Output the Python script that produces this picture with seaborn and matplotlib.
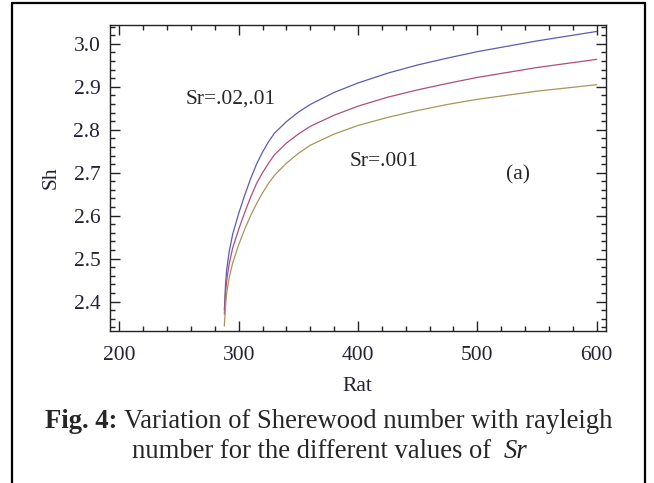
import numpy as np
import pandas as pd
import seaborn as sns
import matplotlib.pyplot as plt
from matplotlib.lines import Line2D
from matplotlib.ticker import MultipleLocator

# values
rat = [288, 289, 290, 292, 295, 300, 305, 310, 315, 320, 325, 330, 340,
       350, 360, 380, 400, 425, 450, 475, 500, 550, 600]
sh_sr02 = [2.38, 2.44, 2.475, 2.515, 2.557, 2.605, 2.647, 2.686, 2.72, 2.748,
           2.772, 2.792, 2.819, 2.841, 2.859, 2.887, 2.909, 2.932, 2.951, 2.967,
           2.982, 3.007, 3.029]
sh_sr01 = [2.37, 2.42, 2.45, 2.487, 2.525, 2.568, 2.607, 2.643, 2.675, 2.70,
           2.722, 2.742, 2.769, 2.79, 2.808, 2.834, 2.855, 2.876, 2.893, 2.908,
           2.922, 2.945, 2.964]
sh_sr001 = [2.343, 2.39, 2.42, 2.455, 2.49, 2.532, 2.568, 2.60, 2.628, 2.653,
            2.675, 2.694, 2.722, 2.745, 2.764, 2.79, 2.81, 2.829, 2.845, 2.859,
            2.871, 2.89, 2.905]
series_names = ['Sr=.02', 'Sr=.01', 'Sr=.001']
colors = ['#5c5cb0', '#b04d7c', '#a8965a']

# long form table for seaborn
df = pd.concat([
    pd.DataFrame({'Rat': rat, 'Sh': vals, 'Sr': name})
    for name, vals in zip(series_names, [sh_sr02, sh_sr01, sh_sr001])
])

sns.set_style('ticks')
plt.rcParams['font.family'] = ['Liberation Serif', 'DejaVu Serif']

fig = plt.figure(figsize=(6.54, 4.83), dpi=100)
ax = fig.add_axes([0.1682, 0.3153, 0.9261 - 0.1682, 0.9482 - 0.3153])

sns.lineplot(data=df, x='Rat', y='Sh', hue='Sr', palette=colors,
             sort=False, linewidth=0.9, legend=False, ax=ax)

ax.set_xlim(192.2, 607.5)
ax.set_ylim(2.332, 3.044)
ax.xaxis.set_major_locator(MultipleLocator(100))
ax.xaxis.set_minor_locator(MultipleLocator(20))
ax.yaxis.set_major_locator(MultipleLocator(0.1))
ax.yaxis.set_minor_locator(MultipleLocator(0.02))
ax.yaxis.set_major_formatter(plt.FormatStrFormatter('%.1f'))
ax.tick_params(which='both', direction='in', top=True, right=True,
               labelsize=15.5, labelcolor='#222233', color='#222222', width=1)
ax.tick_params(which='major', length=7)
ax.tick_params(which='minor', length=3.5)
ax.tick_params(axis='x', which='major', pad=11)
ax.tick_params(axis='y', which='major', pad=7)
for s in ax.spines.values():
    s.set_color('#222222')
    s.set_linewidth(1)

ax.set_xlabel('Rat', fontsize=15.5, color='#222233', labelpad=9)
ax.set_ylabel('Sh', fontsize=15.5, color='#222233', labelpad=9)

ax.text(293.6, 2.872, 'Sr=.02,.01', fontsize=15.5, ha='center', va='center')
ax.text(421.8, 2.726, 'Sr=.001', fontsize=15.5, ha='center', va='center')
ax.text(534.3, 2.695, '(a)', fontsize=15.5, ha='center', va='center')

# caption below the plot
fig.text(45 / 654, 1 - 428 / 483, 'Fig. 4:', fontsize=19.2, fontweight='bold',
         ha='left', va='baseline')
fig.text(124 / 654, 1 - 428 / 483, 'Variation of Sherewood number with rayleigh',
         fontsize=19.2, ha='left', va='baseline')
fig.text(131.7 / 654, 1 - 458 / 483, 'number for the different values of',
         fontsize=19.2, ha='left', va='baseline')
fig.text(504 / 654, 1 - 458 / 483, 'Sr', fontsize=19.2, style='italic',
         ha='left', va='baseline')

# outer frame (open at the bottom)
xl, xr, yt = 12 / 654, 645 / 654, 1 - 3 / 483
for xs, ys in [([xl, xl], [0, yt]), ([xl, xr], [yt, yt]), ([xr, xr], [yt, 0])]:
    fig.add_artist(Line2D(xs, ys, color='black', linewidth=1.6))

fig.savefig('out.png', dpi=100)
